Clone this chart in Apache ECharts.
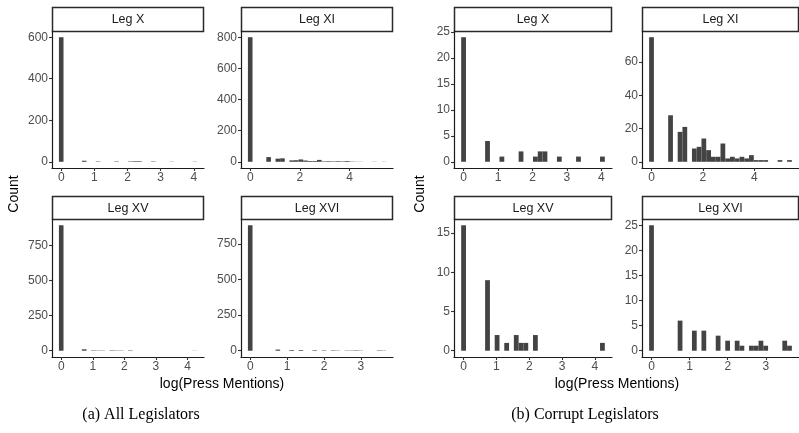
<!DOCTYPE html>
<html>
<head>
<meta charset="utf-8">
<script src="https://cdn.jsdelivr.net/npm/echarts@6/dist/echarts.min.js"></script>
<style>
html,body{margin:0;padding:0;background:#fff;}
#chart{width:799px;height:433px;}
</style>
</head>
<body>
<div id="chart"></div>
<script>
// ---- Data (histogram bins: bin index k -> centre k * maxLog/29) ----
const panelNames = ['Leg X', 'Leg XI', 'Leg XV', 'Leg XVI'];
const maxLogX = 4.03, maxLogXI = 5.37, maxLogXV = 4.23, maxLogXVI = 3.62;

// All legislators
const allX_bins = [0, 5, 8, 12, 15, 16, 17, 20, 24, 29];
const allX_counts = [600, 5, 2, 2, 2, 3, 3, 2, 1, 1];
const allXI_bins = [0, 4, 6, 7, 9, 10, 11, 12, 13, 14, 15, 16, 17, 18, 19, 20, 21, 22, 23, 24, 27, 29];
const allXI_counts = [800, 30, 20, 22, 9, 10, 15, 8, 5, 5, 12, 3, 4, 3, 4, 3, 5, 2, 1, 1, 1, 1];
const allXV_bins = [0, 5, 7, 8, 9, 11, 12, 13, 15, 29];
const allXV_counts = [895, 10, 3, 2, 2, 3, 2, 2, 3, 1];
const allXVI_bins = [0, 6, 9, 11, 14, 16, 18, 19, 21, 22, 23, 24, 28, 29];
const allXVI_counts = [880, 8, 5, 5, 4, 3, 3, 2, 2, 2, 3, 2, 3, 2];

// Corrupt legislators
const corX_bins = [0, 5, 8, 12, 15, 16, 17, 20, 24, 29];
const corX_counts = [24, 4, 1, 2, 1, 2, 2, 1, 1, 1];
const corXI_bins = [0, 4, 6, 7, 9, 10, 11, 12, 13, 14, 15, 16, 17, 18, 19, 20, 21, 22, 23, 24, 27, 29];
const corXI_counts = [75, 28, 18, 21, 8, 9, 14, 7, 3, 3, 11, 2, 3, 2, 3, 2, 4, 1, 1, 1, 1, 1];
const corXV_bins = [0, 5, 7, 9, 11, 12, 13, 15, 29];
const corXV_counts = [16, 9, 2, 1, 2, 1, 1, 2, 1];
const corXVI_bins = [0, 6, 9, 11, 14, 16, 18, 19, 21, 22, 23, 24, 28, 29];
const corXVI_counts = [25, 6, 4, 4, 3, 2, 2, 1, 1, 1, 2, 1, 2, 1];

// Tick labels
const xTicksX = [0, 1, 2, 3, 4], xTicksXI = [0, 2, 4], xTicksXV = [0, 1, 2, 3, 4], xTicksXVI = [0, 1, 2, 3];
const yTicksAllX = [0, 200, 400, 600], yTicksAllXI = [0, 200, 400, 600, 800];
const yTicksAllXV = [0, 250, 500, 750], yTicksAllXVI = [0, 250, 500, 750];
const yTicksCorX = [0, 5, 10, 15, 20, 25], yTicksCorXI = [0, 20, 40, 60];
const yTicksCorXV = [0, 5, 10, 15], yTicksCorXVI = [0, 5, 10, 15, 20, 25];

const xLabel = 'log(Press Mentions)';
const yLabel = 'Count';
const captions = ['(a) All Legislators', '(b) Corrupt Legislators'];

// ---- Layout ----
const FONT = '"Liberation Sans", Arial, Helvetica, sans-serif';
const cols = [[52, 204], [241, 393], [454, 612], [642, 799]];
const rows = [[31, 168], [219, 357]];
const strips = [[7, 31], [196, 219]];

const panels = [
  {c: 0, r: 0, name: panelNames[0], bins: allX_bins, counts: allX_counts, M: maxLogX, xt: xTicksX, yt: yTicksAllX},
  {c: 1, r: 0, name: panelNames[1], bins: allXI_bins, counts: allXI_counts, M: maxLogXI, xt: xTicksXI, yt: yTicksAllXI},
  {c: 0, r: 1, name: panelNames[2], bins: allXV_bins, counts: allXV_counts, M: maxLogXV, xt: xTicksXV, yt: yTicksAllXV},
  {c: 1, r: 1, name: panelNames[3], bins: allXVI_bins, counts: allXVI_counts, M: maxLogXVI, xt: xTicksXVI, yt: yTicksAllXVI},
  {c: 2, r: 0, name: panelNames[0], bins: corX_bins, counts: corX_counts, M: maxLogX, xt: xTicksX, yt: yTicksCorX},
  {c: 3, r: 0, name: panelNames[1], bins: corXI_bins, counts: corXI_counts, M: maxLogXI, xt: xTicksXI, yt: yTicksCorXI},
  {c: 2, r: 1, name: panelNames[2], bins: corXV_bins, counts: corXV_counts, M: maxLogXV, xt: xTicksXV, yt: yTicksCorXV},
  {c: 3, r: 1, name: panelNames[3], bins: corXVI_bins, counts: corXVI_counts, M: maxLogXVI, xt: xTicksXVI, yt: yTicksCorXVI}
];

const grid = [], xAxis = [], yAxis = [], series = [], graphic = [];

panels.forEach((p, i) => {
  const [l, rr] = cols[p.c];
  const [t, b] = rows[p.r];
  grid.push({left: l, top: t, width: rr - l, height: b - t, containLabel: false});
  const w = p.M / 29;
  const span = p.M + w;
  const xmin = -w / 2 - 0.05 * span;
  const xmax = p.M + w / 2 + 0.05 * span;
  const cmax = Math.max.apply(null, p.counts);
  xAxis.push({
    type: 'value', gridIndex: i, min: xmin, max: xmax,
    axisLine: {show: true, onZero: false, lineStyle: {color: '#1a1a1a', width: 1.2}},
    axisTick: {show: true, length: 3, lineStyle: {color: '#333', width: 1.1}, customValues: p.xt},
    axisLabel: {show: true, color: '#4d4d4d', fontSize: 12, fontFamily: FONT, margin: 4, customValues: p.xt},
    splitLine: {show: false}
  });
  yAxis.push({
    type: 'value', gridIndex: i, min: -0.05 * cmax, max: 1.05 * cmax,
    axisLine: {show: true, onZero: false, lineStyle: {color: '#1a1a1a', width: 1.2}},
    axisTick: {show: true, length: 3, lineStyle: {color: '#333', width: 1.1}, customValues: p.yt},
    axisLabel: {show: true, color: '#4d4d4d', fontSize: 12, fontFamily: FONT, margin: 4, customValues: p.yt},
    splitLine: {show: false}
  });
  const data = p.bins.map((k, j) => [k * w - w / 2, k * w + w / 2, p.counts[j]]);
  series.push({
    type: 'custom', xAxisIndex: i, yAxisIndex: i, clip: true,
    encode: {x: [0, 1], y: 2},
    data: data,
    renderItem: function (params, api) {
      const p0 = api.coord([api.value(0), api.value(2)]);
      const p1 = api.coord([api.value(1), 0]);
      return {
        type: 'rect',
        shape: {x: p0[0], y: p0[1], width: p1[0] - p0[0], height: p1[1] - p0[1]},
        style: {fill: '#434343'}
      };
    },
    silent: true
  });
  // strip
  const [st, sb] = strips[p.r];
  graphic.push({
    type: 'rect', silent: true,
    shape: {x: l + 0.5, y: st + 0.5, width: rr - l - 1, height: sb - st},
    style: {fill: '#ffffff', stroke: '#2a2a2a', lineWidth: 1.5}
  });
  graphic.push({
    type: 'text', silent: true,
    x: (l + rr) / 2, y: (st + sb) / 2 + 1,
    style: {text: p.name, textAlign: 'center', textVerticalAlign: 'middle', fill: '#1a1a1a', font: '12.5px ' + FONT}
  });
});

// Axis titles
[[14, 194], [420, 194]].forEach(pos => {
  graphic.push({
    type: 'text', silent: true, x: pos[0], y: pos[1], rotation: Math.PI / 2,
    style: {text: yLabel, textAlign: 'center', textVerticalAlign: 'middle', fill: '#000', font: '14px ' + FONT}
  });
});
[[222, 384], [617, 384]].forEach(pos => {
  graphic.push({
    type: 'text', silent: true, x: pos[0], y: pos[1],
    style: {text: xLabel, textAlign: 'center', textVerticalAlign: 'middle', fill: '#000', font: '14px ' + FONT}
  });
});
[[141, 415], [585, 415]].forEach((pos, i) => {
  graphic.push({
    type: 'text', silent: true, x: pos[0], y: pos[1],
    style: {text: captions[i], textAlign: 'center', textVerticalAlign: 'middle', fill: '#000', font: '16px "Liberation Serif", "Times New Roman", serif'}
  });
});

const chart = echarts.init(document.getElementById('chart'), null, {renderer: 'canvas'});
chart.setOption({
  animation: false,
  backgroundColor: '#ffffff',
  grid: grid, xAxis: xAxis, yAxis: yAxis, series: series, graphic: graphic
});
</script>
</body>
</html>
